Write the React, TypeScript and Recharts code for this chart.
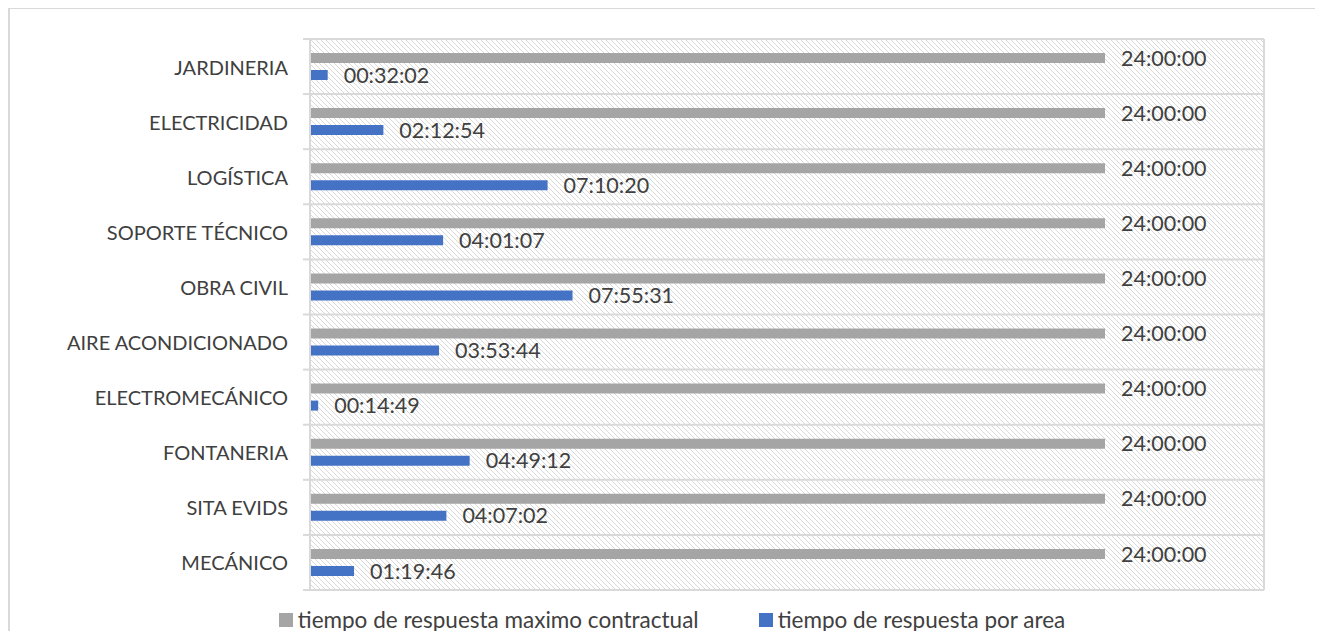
import React from 'react';
import { BarChart, Bar, XAxis, YAxis, CartesianGrid, LabelList } from 'recharts';

const categories = [
  'JARDINERIA',
  'ELECTRICIDAD',
  'LOGÍSTICA',
  'SOPORTE TÉCNICO',
  'OBRA CIVIL',
  'AIRE ACONDICIONADO',
  'ELECTROMECÁNICO',
  'FONTANERIA',
  'SITA EVIDS',
  'MECÁNICO',
];
const maxTimes = ['24:00:00', '24:00:00', '24:00:00', '24:00:00', '24:00:00', '24:00:00', '24:00:00', '24:00:00', '24:00:00', '24:00:00'];
const areaTimes = ['00:32:02', '02:12:54', '07:10:20', '04:01:07', '07:55:31', '03:53:44', '00:14:49', '04:49:12', '04:07:02', '01:19:46'];
const seriesNames = ['tiempo de respuesta maximo contractual', 'tiempo de respuesta por area'];
const axisTicks = [0, 0.2, 0.4, 0.6, 0.8, 1.0, 1.2];

const toDays = (s: string) => {
  const [h, m, sec] = s.split(':').map(Number);
  return (h * 3600 + m * 60 + sec) / 86400;
};
const fmt = (v: any) => {
  const t = Math.round(Number(v) * 86400);
  const h = Math.floor(t / 3600);
  const m = Math.floor((t % 3600) / 60);
  const s = t % 60;
  const p = (n: number) => String(n).padStart(2, '0');
  return `${p(h)}:${p(m)}:${p(s)}`;
};

const data = categories.map((name, i) => ({
  name,
  max: toDays(maxTimes[i]),
  area: toDays(areaTimes[i]),
}));

const GRAY = '#A5A5A5';
const BLUE = '#4472C4';
const TEXT = '#404040';
const FONT = 'Lato, "Open Sans", sans-serif';

const CHART_W = 1310;
const CHART_H = 623;
const Y_W = 301;
const MARGIN = { top: 31, right: 55, bottom: 41, left: 0 };
const PLOT_H = CHART_H - MARGIN.top - MARGIN.bottom;
const BAND = PLOT_H / categories.length;

const CatTick = (props: any) => {
  const { y, payload, index } = props;
  const axisX = Y_W;
  return (
    <g>
      <line x1={axisX - 7} x2={axisX} y1={y - BAND / 2} y2={y - BAND / 2} stroke="#D9D9D9" strokeWidth={2} />
      {index === categories.length - 1 && (
        <line x1={axisX - 7} x2={axisX} y1={y + BAND / 2} y2={y + BAND / 2} stroke="#D9D9D9" strokeWidth={2} />
      )}
      <text x={axisX - 22} y={y} textAnchor="end" dominantBaseline="central" fill={TEXT} fontSize={20} fontFamily={FONT}>
        {payload.value}
      </text>
    </g>
  );
};

export default function App() {
  return (
    <div
      style={{
        position: 'relative',
        width: 1312,
        height: 640,
        marginTop: -1,
        border: '2px solid #D9D9D9',
        boxSizing: 'border-box',
        background: '#fff',
      }}
    >
      <svg width={0} height={0} style={{ position: 'absolute' }}>
        <defs>
          <pattern id="hatch" patternUnits="userSpaceOnUse" width={5} height={5}>
            <rect width={5} height={5} fill="#fff" />
            <path d="M0,0 L5,5 M-1,4 L1,6 M4,-1 L6,1" stroke="#D9D9D9" strokeWidth={1} />
          </pattern>
        </defs>
      </svg>
      <div style={{ position: 'absolute', left: -1, top: -1 }}>
        <BarChart
          width={CHART_W}
          height={CHART_H}
          data={data}
          layout="vertical"
          margin={MARGIN}
          barSize={10}
          barGap={7}
        >
          <CartesianGrid
            stroke="#D9D9D9"
            strokeWidth={2}
            fill="url(#hatch)"
            fillOpacity={1}
            horizontalCoordinatesGenerator={({ offset }: any) =>
              categories.map((_, i) => offset.top + (i * offset.height) / categories.length).concat([offset.top + offset.height])
            }
          />
          <XAxis type="number" domain={[0, 1.2]} ticks={axisTicks} tick={false} axisLine={false} tickLine={false} height={0} />
          <YAxis
            type="category"
            dataKey="name"
            width={Y_W}
            tick={<CatTick />}
            tickLine={false}
            axisLine={{ stroke: '#D9D9D9', strokeWidth: 2 }}
            interval={0}
          />
          <Bar dataKey="max" name={seriesNames[0]} fill={GRAY} isAnimationActive={false}>
            <LabelList dataKey="max" position="right" offset={16} formatter={fmt} fill={TEXT} fontSize={21.5} fontFamily={FONT} />
          </Bar>
          <Bar dataKey="area" name={seriesNames[1]} fill={BLUE} isAnimationActive={false}>
            <LabelList dataKey="area" position="right" offset={16} formatter={fmt} fill={TEXT} fontSize={21.5} fontFamily={FONT} />
          </Bar>
        </BarChart>
      </div>
      <div
        style={{
          position: 'absolute',
          top: 599,
          left: 7,
          width: 1310,
          display: 'flex',
          justifyContent: 'center',
          gap: 60,
          fontFamily: FONT,
          fontSize: 22.5,
          color: TEXT,
          lineHeight: '24px',
        }}
      >
        {seriesNames.map((n, i) => (
          <div key={n} style={{ display: 'flex', alignItems: 'center' }}>
            <span style={{ display: 'inline-block', width: 14, height: 14, background: i === 0 ? GRAY : BLUE, marginRight: 5 }} />
            <span>{n}</span>
          </div>
        ))}
      </div>
    </div>
  );
}
